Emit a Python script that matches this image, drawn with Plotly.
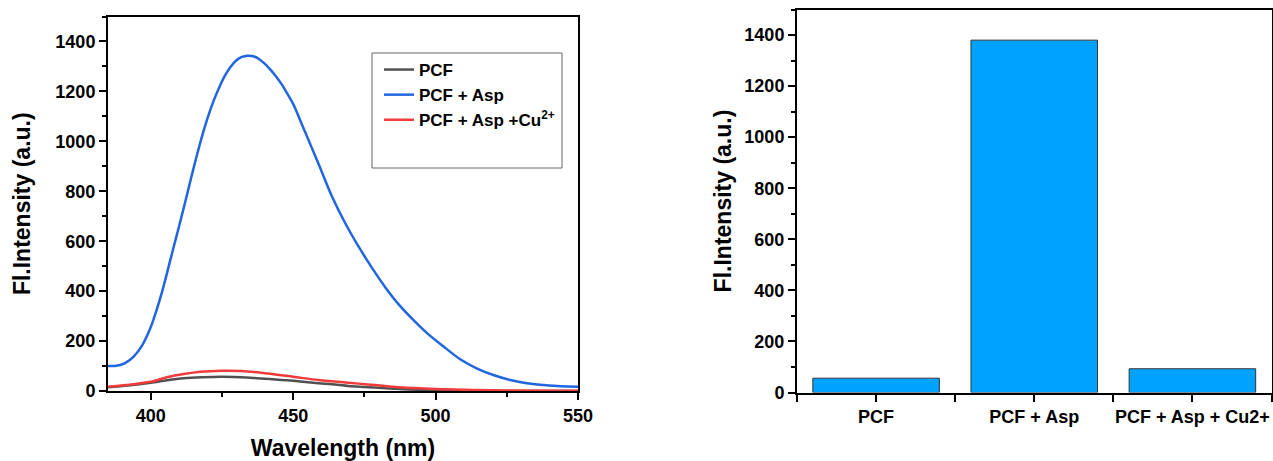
import plotly.graph_objects as go

# ---- Left panel: emission spectra ----
wl_pcf = [385, 392, 400, 405.7, 411.6, 418, 425, 435, 443, 450, 458.9, 463.6, 469.5, 475.4, 487.2, 500, 515, 530, 550]
int_pcf = [15, 22, 33, 43, 51, 55, 57, 53, 47, 41, 31, 27, 20, 16, 8, 3, 1, 0, 0]

wl_asp = [385, 388, 391, 394, 397, 400, 402, 404, 406, 408, 410, 412, 414, 416, 418, 420, 422, 424,
          426, 428, 430, 432, 434, 436, 438, 440, 442, 444, 446, 448, 450, 454.1, 458.9, 463.6, 468.3,
          473, 477.8, 482.5, 487.2, 492, 497, 502.6, 508.5, 514.4, 520.3, 526.2, 532, 538, 544, 550]
int_asp = [100, 101, 112, 138, 183, 255, 322, 398, 485, 575, 662, 752, 845, 935, 1020, 1095, 1160, 1215,
           1262, 1298, 1324, 1338, 1343, 1341, 1330, 1311, 1287, 1260, 1228, 1190, 1150, 1040, 910, 780, 672,
           578, 491, 413, 345, 287, 232, 180, 128, 91, 64, 44, 31, 24, 19, 17]

wl_cu = [385, 391.5, 400, 405.7, 411.6, 417.5, 425, 431.7, 438.8, 450, 458.9, 463.6, 469.5, 475.4, 487.2, 500, 513, 525, 550]
int_cu = [17, 24, 37, 55, 68, 77, 81, 80, 73, 57, 44, 39, 33, 27, 15, 8, 4, 2, 1]

# ---- Right panel: bar chart ----
bar_categories = ["PCF", "PCF + Asp", "PCF + Asp + Cu2+"]
bar_values = [56, 1380, 93]

FONT = "Liberation Sans, Arial, sans-serif"
W, H = 1273, 461

fig = go.Figure()
fig.add_trace(go.Scatter(x=wl_pcf, y=int_pcf, mode="lines", name="PCF",
                         line=dict(color="#505050", width=2.5, shape="spline", smoothing=0.8), xaxis="x", yaxis="y"))
fig.add_trace(go.Scatter(x=wl_asp, y=int_asp, mode="lines", name="PCF + Asp",
                         line=dict(color="#1F66E0", width=2.5, shape="spline", smoothing=0.8), xaxis="x", yaxis="y"))
fig.add_trace(go.Scatter(x=wl_cu, y=int_cu, mode="lines", name="PCF + Asp +Cu<sup>2+</sup>",
                         line=dict(color="#F03A3C", width=2.5, shape="spline", smoothing=0.8), xaxis="x", yaxis="y"))

fig.add_trace(go.Bar(x=list(range(len(bar_categories))), y=bar_values, width=0.8,
                     marker=dict(color="#00A2FF", line=dict(color="#333333", width=1)),
                     xaxis="x2", yaxis="y2", showlegend=False))

tickfont = dict(family=FONT, size=18, color="black", weight="bold")
titlefont = dict(family=FONT, size=23, color="black", weight="bold")

common = dict(showline=True, linecolor="black", linewidth=2, mirror=True,
              ticks="outside", ticklen=7, tickwidth=2, tickcolor="black",
              showgrid=False, zeroline=False, tickfont=tickfont, automargin=False)

fig.update_layout(
    width=W, height=H,
    margin=dict(l=0, r=0, t=0, b=0),
    paper_bgcolor="white", plot_bgcolor="white",
    xaxis=dict(domain=[108 / W, 578 / W], range=[385, 550], anchor="y",
               tick0=400, dtick=50,
               minor=dict(dtick=25, tick0=400, ticks="outside", ticklen=4, tickwidth=2, tickcolor="black"),
               title=dict(text="Wavelength (nm)", font=titlefont, standoff=18), **common),
    yaxis=dict(domain=[(H - 391) / H, (H - 16.5) / H], range=[0, 1500], anchor="x",
               tick0=0, dtick=200,
               minor=dict(dtick=100, tick0=0, ticks="outside", ticklen=4, tickwidth=2, tickcolor="black"),
               title=dict(text="Fl.Intensity (a.u.)", font=titlefont, standoff=18), **common),
    xaxis2=dict(domain=[797 / W, 1271.5 / W], range=[-0.5, 2.5], anchor="y2",
                tickmode="array", tickvals=list(range(len(bar_categories))), ticktext=bar_categories,
                minor=dict(tick0=0.5, dtick=1, ticks="outside", ticklen=7, tickwidth=2, tickcolor="black"),
                **common),
    yaxis2=dict(domain=[(H - 392.5) / H, (H - 9.5) / H], range=[0, 1500], anchor="x2",
                tick0=0, dtick=200,
                minor=dict(dtick=100, tick0=0, ticks="outside", ticklen=4, tickwidth=2, tickcolor="black"),
                title=dict(text="Fl.Intensity (a.u.)", font=titlefont, standoff=6), **common),
    legend=dict(x=379 / W, y=1 - 52 / H, xanchor="left", yanchor="top",
                bgcolor="rgba(0,0,0,0)", borderwidth=0,
                font=dict(family=FONT, size=17, color="black", weight="bold")),
    shapes=[dict(type="rect", xref="paper", yref="paper",
                 x0=372 / W, x1=562 / W, y0=1 - 168 / H, y1=1 - 53 / H,
                 line=dict(color="#666666", width=1))],
)

fig.write_html("out.html")
